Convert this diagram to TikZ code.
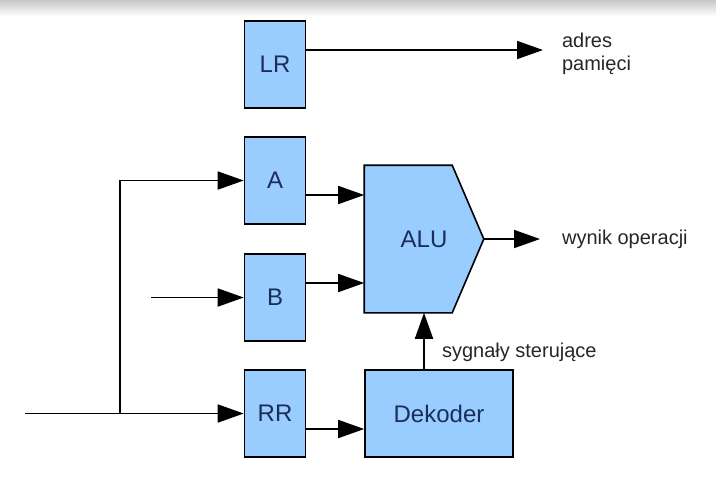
\documentclass[tikz,border=0pt]{standalone}
\usepackage{fontspec}
\setmainfont{Liberation Sans}
\usepackage{tikz}
\usetikzlibrary{calc, positioning, arrows.meta}
\pgfdeclarelayer{bg}
\pgfsetlayers{bg,main}
\definecolor{regblue}{HTML}{99CCFF}
\definecolor{regtext}{HTML}{1C2D5C}

\begin{document}
\begin{tikzpicture}
			[x=0.5pt, y=-0.5pt,
			reg/.style={rectangle, draw, line width=0.8pt, fill=regblue, text=regtext, font=\fontsize{12}{14}\selectfont, minimum width=30.5pt, minimum height=43.5pt, inner sep=0pt},
			arr/.style={-{Triangle[length=13pt, width=9pt]}, line width=0.9pt},
			lbl/.style={font=\fontsize{10}{11.5}\selectfont, text=black!85, align=left, anchor=west}]
		\useasboundingbox (0,0) rectangle (716,479);
		\shade[top color=black!22, bottom color=white] (0,0) rectangle (716,16);
		% nodes %
		\node[reg] (lr) at (275,64.5) {LR};
		\node[reg] (a) at (275,180.5) {A};
		\node[reg] (b) at (275,297.5) {B};
		\node[reg] (rr) at (275,413.5) {RR};
		\node[reg, minimum width=74pt] (dek) at (439,413.5) {Dekoder};
		\node[reg, draw=none, fill=none, minimum width=59pt, minimum height=73pt] (alu) at (424,239) {ALU};
		\begin{pgfonlayer}{bg}
		\filldraw[line width=0.8pt, fill=regblue] (alu.north west) -- ++(88,0) -- (alu.east) -- ($(alu.south west)+(88,0)$) -- (alu.south west) -- cycle;
		\end{pgfonlayer}
		\node[lbl] (mem) at (555,54) {adres\\pamięci};
		\node[lbl] (wynik) at (555,239) {wynik operacji};
		\node[lbl] (ster) at (435,352) {sygnały sterujące};
		\coordinate (in) at (25,413.5);
		\coordinate (split) at (120,413.5);
		\coordinate (bin) at (151,297.5);
		\coordinate (memout) at (543,50);
		\coordinate (res) at (540,239);
		\coordinate (aout) at ($(a.east)+(0,14.5)$);
		\coordinate (bout) at ($(b.east)+(0,-14.5)$);
		\coordinate (rrout) at ($(rr.east)+(0,15.5)$);

		% edges %
		\draw[arr] (lr.east |- memout) -- (memout);
		\draw[arr] (in) -- (rr);
		\draw[arr] (split) |- (a);
		\draw[arr] (bin) -- (b);
		\draw[arr] (aout) -- (aout -| alu.west);
		\draw[arr] (bout) -- (bout -| alu.west);
		\draw[arr] (rrout) -- (rrout -| dek.west);
		\draw[arr] (alu.east) -- (res);
		\draw[arr] (alu.south |- dek.north) -- (alu.south);
		\end{tikzpicture}
\end{document}
